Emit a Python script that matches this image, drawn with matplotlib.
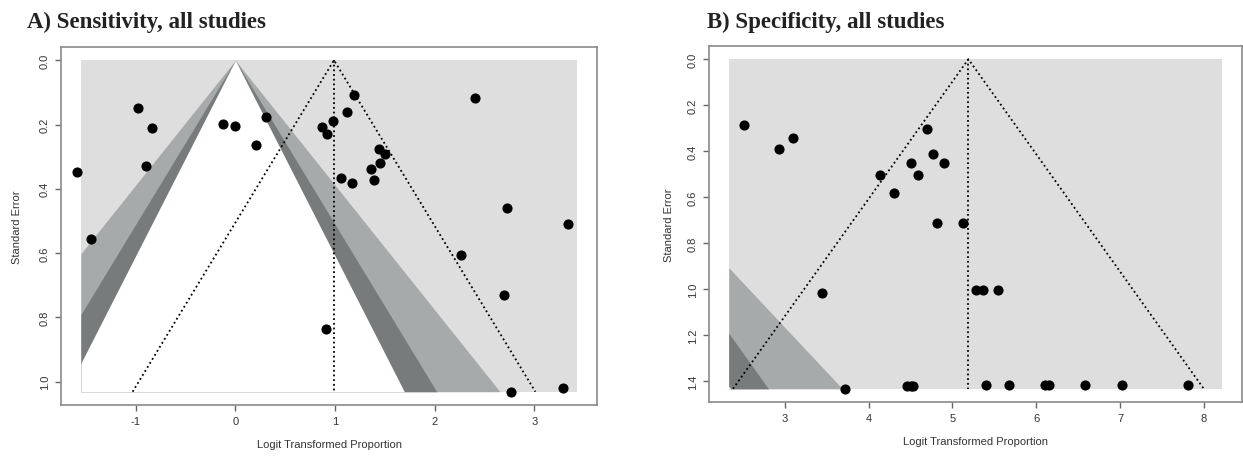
import matplotlib.pyplot as plt
import numpy as np

# panel A: sensitivity (logit proportion, standard error)
sens_x = [-1.59, -1.45, -0.98, -0.84, -0.90, -0.12, 0.00, 0.21, 0.31, 0.87, 0.92,
          0.98, 1.19, 1.12, 1.06, 1.17, 1.36, 1.39, 1.44, 1.45, 1.50, 2.40, 2.73,
          3.34, 2.26, 2.70, 0.91, 2.77, 3.29]
sens_se = [0.347, 0.555, 0.150, 0.210, 0.328, 0.197, 0.206, 0.264, 0.176, 0.209, 0.228,
           0.189, 0.109, 0.161, 0.366, 0.381, 0.337, 0.373, 0.277, 0.319, 0.293, 0.117, 0.461,
           0.509, 0.607, 0.729, 0.837, 1.031, 1.018]
sens_est = 0.99
sens_range = (-1.55, 3.43)

# panel B: specificity
spec_x = [2.52, 2.93, 3.10, 4.70, 4.77, 4.90, 4.50, 4.14, 4.59, 4.30, 4.82, 5.12,
          3.44, 5.28, 5.36, 5.54, 3.72, 4.46, 4.50, 4.53, 5.40, 5.68, 6.10, 6.15,
          6.58, 7.02, 7.81]
spec_se = [0.288, 0.388, 0.341, 0.303, 0.410, 0.449, 0.449, 0.503, 0.503, 0.581, 0.710, 0.710,
           1.017, 1.001, 1.001, 1.001, 1.432, 1.418, 1.418, 1.418, 1.417, 1.417, 1.417, 1.417,
           1.417, 1.417, 1.417]
spec_est = 5.19
spec_range = (2.333, 8.214)

levels_z = [2.576, 1.96, 1.645]   # 99, 95, 90 %
shades = ['#a7aaaa', '#777b7b', 'white']
back = '#dedede'

plt.rcParams['font.family'] = ['Liberation Sans', 'DejaVu Sans']

fig = plt.figure(figsize=(12.43, 4.6), dpi=100)
ax_a = fig.add_axes([0.0491, 0.1174, 0.4312, 0.7783])
ax_b = fig.add_axes([0.5704, 0.1239, 0.4286, 0.7739])


def funnel(ax, xs, ses, est, xr, yticks, xticks, ylab_pad):
    ymax = max(ses)
    xlo, xhi = xr
    dx = (xhi - xlo) * 0.04
    dy = ymax * 0.04
    ax.set_xlim(xlo - dx, xhi + dx)
    ax.set_ylim(ymax + dy, -dy)

    # contour-enhanced background
    ax.fill_between([xlo, xhi], 0, ymax, color=back, lw=0, zorder=1)
    yy = np.linspace(0, ymax, 400)
    for z, c in zip(levels_z, shades):
        left = np.clip(-z * yy, xlo, xhi)
        right = np.clip(z * yy, xlo, xhi)
        ax.fill_betweenx(yy, left, right, where=right > left, color=c, lw=0, zorder=2)

    # pseudo confidence region around estimate
    ax.plot([est - 1.96 * ymax, est, est + 1.96 * ymax], [ymax, 0, ymax],
            color='black', ls=(0, (1, 1.6)), lw=1.3, zorder=3)
    ax.plot([est, est], [0, ymax], color='black', ls=(0, (1, 1.6)), lw=1.3, zorder=3)

    ax.plot(xs, ses, 'o', color='black', ms=6.3, zorder=4, clip_on=False)

    ax.set_yticks(yticks)
    ax.set_yticklabels([f'{v:.1f}' for v in yticks], rotation=90, va='center')
    ax.set_xticks(xticks)
    ax.set_xticklabels([str(v) for v in xticks])
    ax.tick_params(direction='out', length=4, width=1, colors='#666666',
                   labelcolor='#333333', labelsize=8, pad=4)
    for s in ax.spines.values():
        s.set_color('#8a8a8a')
        s.set_linewidth(1.2)
    ax.set_xlabel('Logit Transformed Proportion', fontsize=8, color='#333333', labelpad=9)
    ax.set_ylabel('Standard Error', fontsize=8, color='#333333', labelpad=ylab_pad)


funnel(ax_a, sens_x, sens_se, sens_est, sens_range,
       [0.0, 0.2, 0.4, 0.6, 0.8, 1.0], [-1, 0, 1, 2, 3], 13)
funnel(ax_b, spec_x, spec_se, spec_est, spec_range,
       [0.0, 0.2, 0.4, 0.6, 0.8, 1.0, 1.2, 1.4], [3, 4, 5, 6, 7, 8], 10)

fig.text(0.022, 0.94, 'A) Sensitivity, all studies', family='Liberation Serif',
         weight='bold', fontsize=16.5, color='#222222', va='baseline')
fig.text(0.569, 0.94, 'B) Specificity, all studies', family='Liberation Serif',
         weight='bold', fontsize=16.5, color='#222222', va='baseline')

fig.savefig('out.png', dpi=100, facecolor='white')
